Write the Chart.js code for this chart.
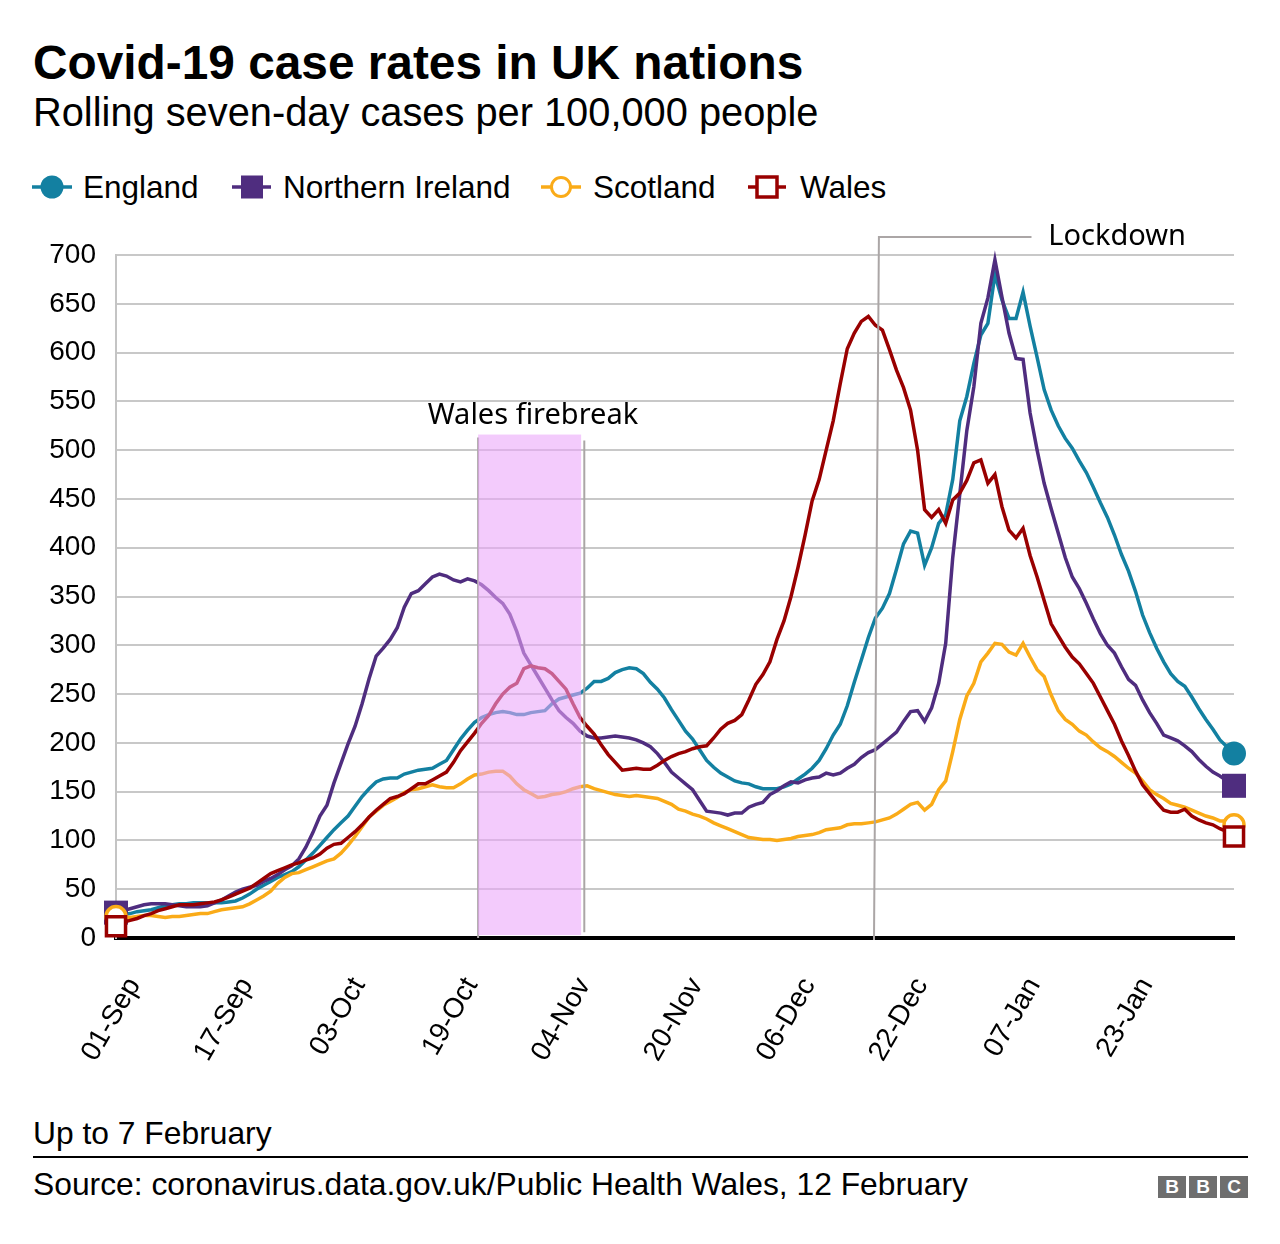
<!DOCTYPE html>
<html>
<head>
<meta charset="utf-8">
<script src="https://cdn.jsdelivr.net/npm/chart.js@4.4.1/dist/chart.umd.min.js"></script>
<style>
  html, body { margin: 0; padding: 0; background: #fff; }
  body { width: 1280px; height: 1244px; position: relative; overflow: hidden;
         font-family: "Liberation Sans", Arial, sans-serif; color: #000; }
  .txt { position: absolute; white-space: nowrap; line-height: 1; }
  #title    { left: 33px; top: 39px; font-size: 47.8px; font-weight: bold; }
  #subtitle { left: 33px; top: 93px; font-size: 39.8px; }
  #legendIcons { position: absolute; left: 0; top: 160px; }
  .lg { top: 172px; font-size: 31.5px; }
  #chartBox { position: absolute; left: 0; top: 200px; width: 1280px; height: 880px; }
  #note   { left: 33px; top: 1118px; font-size: 31.8px; }
  #rule   { position: absolute; left: 33px; top: 1156px; width: 1215px; height: 2px; background: #000; }
  #source { left: 33px; top: 1169px; font-size: 31.8px; }
  .bbc { position: absolute; top: 1176px; width: 28px; height: 22px; background: #6e6e6e; color: #fff;
         font: bold 19px/22px "Liberation Sans", Arial, sans-serif; text-align: center; }
</style>
</head>
<body>
<div id="title" class="txt">Covid-19 case rates in UK nations</div>
<div id="subtitle" class="txt">Rolling seven-day cases per 100,000 people</div>

<svg id="legendIcons" width="900" height="56">
  <line x1="32" y1="27" x2="72" y2="27" stroke="#1380A1" stroke-width="3.5"/>
  <circle cx="52" cy="27" r="11.5" fill="#1380A1"/>
  <line x1="232" y1="27" x2="271" y2="27" stroke="#4f2d7f" stroke-width="3.5"/>
  <rect x="241" y="15.5" width="22" height="23" fill="#4f2d7f"/>
  <line x1="541" y1="27" x2="581" y2="27" stroke="#FAAB18" stroke-width="3.5"/>
  <circle cx="561" cy="27" r="9.5" fill="#fff" stroke="#FAAB18" stroke-width="3"/>
  <line x1="748" y1="27" x2="786" y2="27" stroke="#990000" stroke-width="3.5"/>
  <rect x="757" y="17" width="20" height="20" fill="#fff" stroke="#990000" stroke-width="3.5"/>
</svg>
<div class="txt lg" style="left:83px">England</div>
<div class="txt lg" style="left:283px">Northern Ireland</div>
<div class="txt lg" style="left:593px">Scotland</div>
<div class="txt lg" style="left:800px">Wales</div>

<div id="chartBox"><canvas id="chart"></canvas></div>

<div id="note" class="txt">Up to 7 February</div>
<div id="rule"></div>
<div id="source" class="txt">Source: coronavirus.data.gov.uk/Public Health Wales, 12 February</div>
<div class="bbc" style="left:1158px">B</div>
<div class="bbc" style="left:1189px">B</div>
<div class="bbc" style="left:1220px">C</div>

<script>
// ── Data (01-Sep-2020 .. 07-Feb-2021, one value per day) ─────────────────────
const MONTHS = ['Jan','Feb','Mar','Apr','May','Jun','Jul','Aug','Sep','Oct','Nov','Dec'];
const days = [];
for (let d = new Date(Date.UTC(2020, 8, 1)); d <= new Date(Date.UTC(2021, 1, 7)); d.setUTCDate(d.getUTCDate() + 1)) {
  days.push(String(d.getUTCDate()).padStart(2, '0') + '-' + MONTHS[d.getUTCMonth()]);
}

const tickLabels = ['01-Sep','17-Sep','03-Oct','19-Oct','04-Nov','20-Nov','06-Dec','22-Dec','07-Jan','23-Jan'];

const england = [
  23,24,25,27,28,29,31,33,34,35, 35,36,36,36,36,36,37,38,41,45,
  50,54,58,62,65,68,73,80,87,95, 103,111,118,125,135,145,153,160,163,164,
  164,168,170,172,173,174,178,182,193,204, 213,221,226,229,231,232,231,229,229,231,
  232,233,240,245,247,249,251,256,263,263, 266,272,275,277,276,271,262,255,246,234,
  223,212,204,193,182,175,169,165,161,159, 158,155,153,153,153,155,158,163,168,174,
  182,194,208,219,238,262,285,308,328,338, 353,378,404,417,415,382,400,425,434,470,
  530,555,589,618,630,680,654,635,635,662, 627,595,562,541,525,512,502,489,477,462,
  446,431,413,393,376,355,331,313,297,283, 271,263,258,247,235,224,214,203,196,189
];

const northernIreland = [
  26,28,30,32,34,35,35,35,34,33, 32,32,32,33,36,39,43,47,50,52,
  54,58,61,65,70,74,81,93,108,125, 136,159,179,199,217,240,266,289,297,306,
  318,339,353,356,363,370,373,371,367,365, 368,366,362,356,349,343,332,314,292,280,
  268,256,244,233,226,220,212,207,205,205, 206,207,206,205,203,200,196,189,180,170,
  164,158,152,141,130,129,128,126,128,128, 134,137,139,147,151,156,160,159,162,164,
  165,169,167,169,174,178,185,190,193,199, 205,211,222,232,233,222,236,261,302,390,
  455,520,565,630,656,695,657,620,594,593, 538,500,466,440,415,390,370,358,343,327,
  312,300,292,278,265,259,244,231,220,208, 205,202,197,191,183,176,170,166,161,156
];

const scotland = [
  22,22,21,22,23,23,22,21,22,22, 23,24,25,25,27,29,30,31,32,35,
  39,43,48,56,62,66,67,70,73,76, 79,81,87,95,104,114,124,130,136,140,
  144,149,152,153,155,157,155,154,154,158, 163,167,168,170,171,171,166,158,152,148,
  144,145,147,148,150,153,155,156,153,151, 149,147,146,145,146,145,144,143,140,137,
  132,130,127,125,122,118,115,112,109,106, 103,102,101,101,100,101,102,104,105,106,
  108,111,112,113,116,117,117,118,119,121, 123,127,132,137,139,131,137,152,161,191,
  224,248,261,283,292,302,301,293,290,302, 288,275,268,249,233,224,219,212,208,201,
  195,191,186,180,174,169,161,152,147,143, 138,136,134,131,128,125,123,120,120,116
];

const wales = [
  12,16,18,20,23,25,28,30,32,34, 34,34,35,36,37,39,42,45,48,51,
  56,61,66,69,72,75,77,80,82,86, 92,96,97,103,109,116,124,131,137,143,
  145,148,153,158,158,162,166,170,180,192, 201,210,220,228,240,250,257,261,276,279,
  277,276,271,263,255,240,226,217,209,198, 188,180,172,173,174,173,173,177,182,186,
  189,191,194,196,197,205,214,220,223,229, 244,260,270,283,306,325,350,380,413,448,
  470,500,530,568,604,620,632,637,628,623, 603,582,564,541,500,439,431,439,425,449,
  456,469,487,490,466,475,442,418,410,420, 392,370,346,322,310,298,288,281,271,261,
  247,233,219,202,187,171,157,148,139,131, 129,129,132,125,121,118,116,112,109,104
];

// Annotation positions in data space (day index, value)
const FIREBREAK = { from: 51.5, to: 66.15, top: 516, bottom: 3, lineRight: 66.6, text: 'Wales firebreak', textAt: [59.3, 535] };
const LOCKDOWN  = { topAt: [108.5, 718.5], bottomAt: [107.8, -2], armTo: 130.2, text: 'Lockdown', textAt: [132.6, 719] };

// ── Helpers ──────────────────────────────────────────────────────────────────
const endsOnly = r => ctx => (ctx.dataIndex === 0 || ctx.dataIndex === days.length - 1) ? r : 0;

function series(label, data, color, style, radius, filled, order) {
  return {
    label, data, order,
    borderColor: color,
    backgroundColor: filled ? color : '#ffffff',
    borderWidth: 3.5,
    tension: 0,
    clip: false,
    pointStyle: style,
    pointRadius: endsOnly(radius),
    pointHoverRadius: endsOnly(radius),
    pointBorderWidth: filled ? 0 : 3.5,
    pointBackgroundColor: filled ? color : '#ffffff',
    pointBorderColor: color,
  };
}

// ── Annotation plugin ────────────────────────────────────────────────────────
const annotations = {
  id: 'annotations',
  afterDatasetsDraw(chart) {
    const { ctx, scales: { x, y } } = chart;
    const px = v => x.getPixelForValue(v);
    const py = v => y.getPixelForValue(v);
    ctx.save();

    // firebreak
    ctx.strokeStyle = '#aba6a6';
    ctx.lineWidth = 2;
    ctx.beginPath();
    ctx.moveTo(px(FIREBREAK.from), py(FIREBREAK.top - 3));
    ctx.lineTo(px(FIREBREAK.from), py(0));
    ctx.moveTo(px(FIREBREAK.lineRight), py(FIREBREAK.top - 6));
    ctx.lineTo(px(FIREBREAK.lineRight), py(FIREBREAK.bottom + 3));
    ctx.stroke();

    ctx.fillStyle = 'rgba(234,165,250,0.58)';
    const bx = px(FIREBREAK.from), by = py(FIREBREAK.top);
    ctx.fillRect(bx, by, px(FIREBREAK.to) - bx, py(FIREBREAK.bottom) - by);

    ctx.fillStyle = '#000';
    ctx.font = '29px "Noto Sans", "Open Sans", sans-serif';
    ctx.textAlign = 'center';
    ctx.textBaseline = 'middle';
    ctx.fillText(FIREBREAK.text, px(FIREBREAK.textAt[0]), py(FIREBREAK.textAt[1]));

    // lockdown
    ctx.strokeStyle = '#aba6a6';
    ctx.lineWidth = 2;
    ctx.beginPath();
    ctx.moveTo(px(LOCKDOWN.bottomAt[0]), py(LOCKDOWN.bottomAt[1]));
    ctx.lineTo(px(LOCKDOWN.topAt[0]), py(LOCKDOWN.topAt[1]));
    ctx.lineTo(px(LOCKDOWN.armTo), py(LOCKDOWN.topAt[1]));
    ctx.stroke();

    ctx.textAlign = 'left';
    ctx.fillText(LOCKDOWN.text, px(LOCKDOWN.textAt[0]), py(LOCKDOWN.textAt[1]));
    ctx.restore();
  }
};

// ── Chart ────────────────────────────────────────────────────────────────────
new Chart(document.getElementById('chart'), {
  type: 'line',
  data: {
    labels: days,
    datasets: [
      series('England',          england,         '#1380A1', 'circle', 12,   true,  3),
      series('Northern Ireland', northernIreland, '#4f2d7f', 'rect',   17,   true,  2),
      series('Scotland',         scotland,        '#FAAB18', 'circle', 10,   false, 1),
      series('Wales',            wales,           '#990000', 'rect',   13.5, false, 0),
    ],
  },
  options: {
    responsive: true, maintainAspectRatio: false, animation: false,
    layout: { padding: { top: 55, right: 46, left: 0, bottom: 0 } },
    plugins: { legend: { display: false }, tooltip: { enabled: false } },
    scales: {
      x: {
        afterFit: s => { s.height = 142; },
        grid: { display: false, drawTicks: false },
        border: { display: true, color: '#000', width: 4 },
        ticks: {
          autoSkip: false, maxRotation: 60, minRotation: 60,
          padding: 34, labelOffset: 18,
          color: '#000', font: { family: '"Liberation Sans", Arial', size: 28 },
          callback: (v, i) => tickLabels.includes(days[i]) ? days[i] : null,
        },
      },
      y: {
        min: 0, max: 700,
        afterFit: s => { s.width = 116; },
        grid: { color: '#c8c8c8', lineWidth: 2, drawTicks: false },
        border: { display: true, color: '#c4c4c4', width: 2 },
        ticks: {
          stepSize: 50, padding: 20, color: '#000',
          font: { family: '"Liberation Sans", Arial', size: 28 },
        },
      },
    },
  },
  plugins: [annotations],
});
</script>
</body>
</html>
